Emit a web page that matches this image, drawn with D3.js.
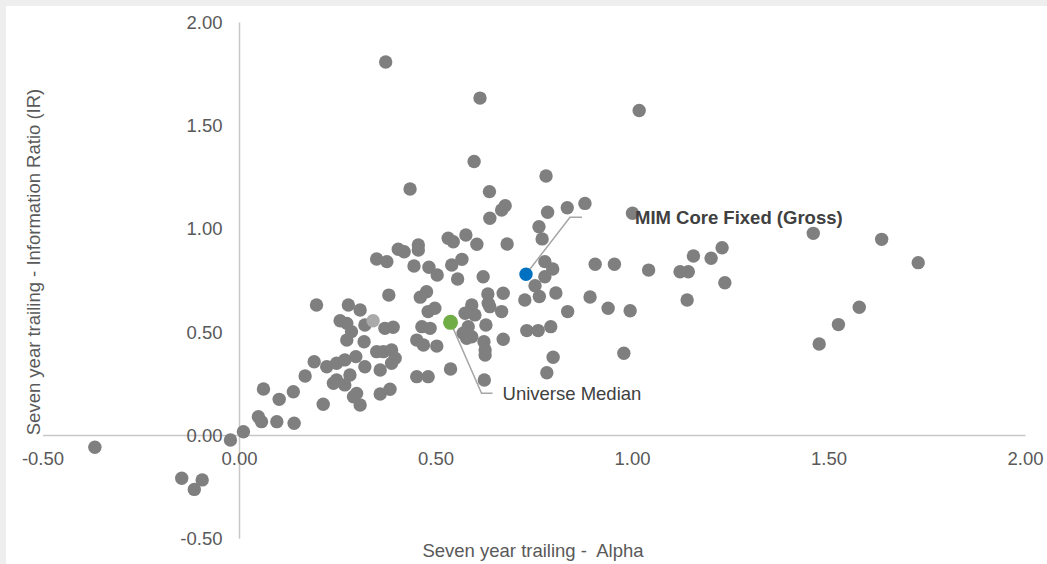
<!DOCTYPE html>
<head>
    <meta charset="utf-8">
    <script src="https://d3js.org/d3.v7.min.js"></script>
    <style>
        body {
            margin: 0;
            background-color: #eeeeee;
        }

        text {
            font-family: "Liberation Sans", Arial, sans-serif;
            font-size: 18.5px;
            fill: #595959;
            white-space: pre;
        }

        .axis-line {
            stroke: #c8c8c8;
            stroke-width: 1.5px;
        }

        .leader {
            fill: none;
            stroke: #a6a6a6;
            stroke-width: 1.5px;
        }
    </style>
</head>

<body>
    <script>
        // Universe of managers: seven year trailing alpha (x) and information ratio (y)
        var alpha = [0.372, 0.612, 1.017, 0.597, 0.780, 0.636, 0.434, 0.676, 0.667, 0.637,
            0.784, 0.834, 0.879, 1.000, 0.762, 0.770, 0.531, 0.544, 0.576, 0.604,
            0.681, 0.455, 0.455, 0.404, 0.419, 0.349, 0.375, 0.444, 0.482, 0.503,
            0.540, 0.566, 0.555, 0.620, 0.777, 0.797, 0.777, 0.752, 0.905, 0.954,
            1.041, 0.632, 0.671, 0.726, 0.763, 0.805, 0.892, 0.380, 0.476, 0.460,
            0.196, 0.277, 0.307, 0.319, 0.256, 0.273, 0.285, 0.273, 0.317, 0.370,
            0.391, 0.464, 0.485, 0.497, 0.480, 0.451, 0.468, 0.502, 0.349, 0.366,
            0.387, 0.396, 0.387, 0.296, 0.268, 0.247, 0.222, 0.190, 0.319, 0.358,
            0.281, 0.247, 0.239, 0.268, 0.167, 0.451, 0.480, 0.061, 0.137, 0.101,
            0.298, 0.290, 0.307, 0.358, 0.383, 0.213, 0.048, 0.056, 0.095, 0.139,
            0.010, -0.023, 0.591, 0.574, 0.599, 0.633, 0.637, 0.667, 0.835, 0.938,
            0.994, 0.582, 0.569, 0.591, 0.578, 0.627, 0.622, 0.625, 0.625, 0.671,
            0.731, 0.760, 0.792, 0.798, 0.782, 0.978, 0.537, 0.623, 1.121, 1.142,
            1.155, 1.200, 1.228, 1.235, 1.139, 1.460, 1.634, 1.727, 1.577, 1.524,
            1.475, -0.368, -0.147, -0.115, -0.095];
        var ir = [1.809, 1.634, 1.574, 1.327, 1.257, 1.181, 1.194, 1.113, 1.092, 1.052,
            1.081, 1.103, 1.124, 1.076, 1.011, 0.952, 0.955, 0.938, 0.971, 0.926,
            0.927, 0.923, 0.898, 0.902, 0.890, 0.855, 0.842, 0.821, 0.815, 0.777,
            0.826, 0.853, 0.758, 0.769, 0.842, 0.806, 0.769, 0.725, 0.829, 0.829,
            0.801, 0.685, 0.689, 0.656, 0.673, 0.690, 0.671, 0.680, 0.696, 0.670,
            0.632, 0.632, 0.608, 0.535, 0.556, 0.543, 0.503, 0.462, 0.454, 0.519,
            0.524, 0.527, 0.519, 0.616, 0.600, 0.462, 0.438, 0.433, 0.406, 0.406,
            0.414, 0.374, 0.350, 0.382, 0.366, 0.350, 0.333, 0.357, 0.333, 0.317,
            0.293, 0.269, 0.253, 0.245, 0.288, 0.285, 0.285, 0.225, 0.212, 0.175,
            0.204, 0.188, 0.148, 0.201, 0.224, 0.151, 0.091, 0.067, 0.067, 0.059,
            0.018, -0.022, 0.632, 0.592, 0.584, 0.640, 0.624, 0.600, 0.600, 0.616,
            0.604, 0.527, 0.495, 0.478, 0.471, 0.535, 0.454, 0.414, 0.390, 0.466,
            0.508, 0.508, 0.527, 0.379, 0.304, 0.398, 0.322, 0.269, 0.793, 0.793,
            0.869, 0.858, 0.909, 0.740, 0.656, 0.979, 0.950, 0.837, 0.621, 0.537,
            0.443, -0.057, -0.207, -0.261, -0.215];

        // Highlighted points [alpha, ir]
        var benchmark = [0.340, 0.556];
        var median = [0.537, 0.548];
        var mim = [0.729, 0.781];

        var xTicks = [-0.5, 0, 0.5, 1.0, 1.5, 2.0];
        var yTicks = [-0.5, 0, 0.5, 1.0, 1.5, 2.0];

        var width = 1047, height = 564;

        var x = d3.scaleLinear().domain([-0.5, 2.0]).range([43, 1025.5]);
        var y = d3.scaleLinear().domain([-0.5, 2.0]).range([538.75, 22.5]);
        // plain hyphen for negatives, like the original
        var fmt = d3.formatLocale({ decimal: ".", thousands: ",", grouping: [3], currency: ["", ""], minus: "-" }).format(".2f");

        var svg = d3.select("body").append("svg")
            .attr("width", width)
            .attr("height", height)
            .style("display", "block");

        // white chart area (thin grey band left and top)
        svg.append("rect")
            .attr("x", 6).attr("y", 6)
            .attr("width", width - 6).attr("height", height - 6)
            .attr("fill", "#ffffff");

        // axes crossing at zero
        svg.append("line").attr("class", "axis-line")
            .attr("x1", x(-0.5)).attr("x2", x(2.0))
            .attr("y1", y(0)).attr("y2", y(0));
        svg.append("line").attr("class", "axis-line")
            .attr("x1", x(0)).attr("x2", x(0))
            .attr("y1", y(2.0)).attr("y2", y(-0.5));

        // tick labels
        svg.selectAll(".xtick").data(xTicks).enter().append("text")
            .attr("class", "xtick")
            .attr("x", function (d) { return x(d); })
            .attr("y", y(0) + 29.5)
            .attr("text-anchor", "middle")
            .text(fmt);

        svg.selectAll(".ytick").data(yTicks).enter().append("text")
            .attr("class", "ytick")
            .attr("x", x(0) - 17)
            .attr("y", function (d) { return y(d); })
            .attr("dy", "0.35em")
            .attr("text-anchor", "end")
            .text(fmt);

        // axis titles
        svg.append("text")
            .attr("x", 533)
            .attr("y", 557)
            .attr("text-anchor", "middle")
            .text("Seven year trailing -  Alpha");

        svg.append("text")
            .attr("transform", "translate(40,262) rotate(-90)")
            .attr("text-anchor", "middle")
            .text("Seven year trailing - Information Ratio (IR)");

        // universe points
        var points = alpha.map(function (a, i) { return [a, ir[i]]; });
        svg.selectAll(".dot").data(points).enter().append("circle")
            .attr("class", "dot")
            .attr("cx", function (d) { return x(d[0]); })
            .attr("cy", function (d) { return y(d[1]); })
            .attr("r", 6.7)
            .attr("fill", "#7f7f7f");

        // leader lines
        var mx = x(mim[0]), my = y(mim[1]);
        svg.append("path").attr("class", "leader")
            .attr("d", "M" + mx + "," + my + " L" + (mx + 44) + "," + (my - 57) + " H" + (mx + 56));

        var gx = x(median[0]), gy = y(median[1]);
        svg.append("path").attr("class", "leader")
            .attr("d", "M" + gx + "," + gy + " L" + (gx + 31) + "," + (gy + 71) + " H" + (gx + 42));

        // highlighted points
        svg.append("circle")
            .attr("cx", x(benchmark[0])).attr("cy", y(benchmark[1]))
            .attr("r", 6.7).attr("fill", "#aaaaaa");
        svg.append("circle")
            .attr("cx", gx).attr("cy", gy)
            .attr("r", 7.5).attr("fill", "#70ad47");
        svg.append("circle")
            .attr("cx", mx).attr("cy", my)
            .attr("r", 6.7).attr("fill", "#0070c0");

        // labels
        svg.append("text")
            .attr("x", mx + 109)
            .attr("y", my - 57)
            .attr("dy", "0.35em")
            .style("font-weight", "bold")
            .style("fill", "#404040")
            .text("MIM Core Fixed (Gross)");

        svg.append("text")
            .attr("x", gx + 52)
            .attr("y", gy + 71)
            .attr("dy", "0.35em")
            .style("fill", "#404040")
            .text("Universe Median");
    </script>
</body>
